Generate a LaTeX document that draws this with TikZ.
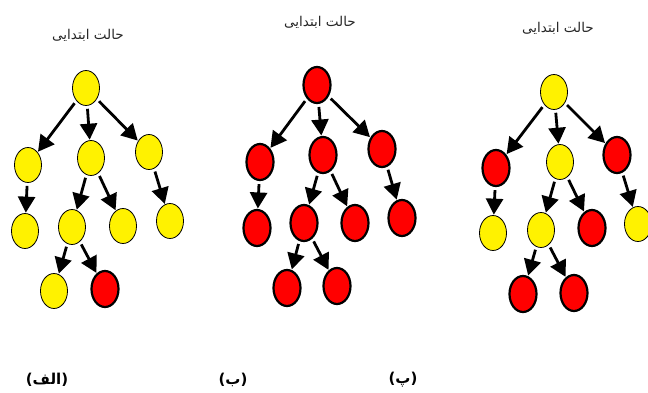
\documentclass[tikz,border=0pt]{standalone}
\usepackage{fontspec}
\usetikzlibrary{arrows.meta,shapes.geometric}
\TeXXeTstate=1
\newfontfamily\arabicfont[Script=Arabic]{DejaVu Sans}
\newfontfamily\plainsans{DejaVu Sans}
\tikzset{
  yel/.style={ellipse, draw=black, line width=0.8pt, fill=yellow, minimum width=27pt, minimum height=35pt, inner sep=0pt},
  rednode/.style={ellipse, draw=black, line width=2.2pt, fill=red, minimum width=27pt, minimum height=36pt, inner sep=0pt},
  arr/.style={line width=2.8pt, -{Triangle[length=16pt,width=17pt]}, shorten <=3pt, shorten >=0.5pt},
  ttl/.style={font=\arabicfont\fontsize{13.5}{15}\selectfont, text=black!85},
  lbl/.style={font=\bfseries\fontsize{15}{17}\selectfont}
}
\newcommand{\lparen}{{\plainsans\bfseries(}}
\newcommand{\rparen}{{\plainsans\bfseries)}}
\begin{document}
\begin{tikzpicture}[x=1pt,y=-1pt]
\useasboundingbox (0,0) rectangle (648,392);
% titles
\node[ttl] (t1) at (88,35) {\beginR حالت ابتدایی\endR};
\node[ttl] (t2) at (320,22) {\beginR حالت ابتدایی\endR};
\node[ttl] (t3) at (558,28) {\beginR حالت ابتدایی\endR};
% labels
\node[lbl] (l1) at (47,380) {\lparen{\arabicfont\bfseries\beginR الف\endR}\rparen};
\node[lbl] (l2) at (233,380) {\lparen{\arabicfont\bfseries\beginR ب\endR}\rparen};
\node[lbl] (l3) at (403,380) {\lparen{\arabicfont\bfseries\beginR پ\endR}\rparen};
% tree 1
\node[yel] (ar) at (86,88) {};
\node[yel] (aa) at (28,165) {};
\node[yel] (ab) at (91,158) {};
\node[yel] (ac) at (149,152) {};
\node[yel] (ad) at (25,231) {};
\node[yel] (ae) at (72,227) {};
\node[yel] (af) at (123,226) {};
\node[yel] (ag) at (170,221) {};
\node[yel] (ah) at (54,291) {};
\node[rednode] (ai) at (105,289) {};
% tree 2
\node[rednode] (br) at (317,85) {};
\node[rednode] (ba) at (260,162) {};
\node[rednode] (bb) at (323,155) {};
\node[rednode] (bc) at (382,149) {};
\node[rednode] (bd) at (257,228) {};
\node[rednode] (be) at (304,223) {};
\node[rednode] (bf) at (355,223) {};
\node[rednode] (bg) at (402,218) {};
\node[rednode] (bh) at (287,288) {};
\node[rednode] (bi) at (337,286) {};
% tree 3
\node[yel] (cr) at (554,92) {};
\node[rednode] (ca) at (496,168) {};
\node[yel] (cb) at (560,162) {};
\node[rednode] (cc) at (617,155) {};
\node[yel] (cd) at (493,233) {};
\node[yel] (ce) at (541,230) {};
\node[rednode] (cf) at (592,228) {};
\node[yel] (cg) at (638,224) {};
\node[rednode] (ch) at (523,294) {};
\node[rednode] (ci) at (574,293) {};
% edges
\foreach \t in {a,b,c}{
  \draw[arr] (\t r) -- (\t a);
  \draw[arr] (\t r) -- (\t b);
  \draw[arr] (\t r) -- (\t c);
  \draw[arr] (\t a) -- (\t d);
  \draw[arr] (\t b) -- (\t e);
  \draw[arr] (\t b) -- (\t f);
  \draw[arr] (\t c) -- (\t g);
  \draw[arr] (\t e) -- (\t h);
  \draw[arr] (\t e) -- (\t i);
}
\end{tikzpicture}
\end{document}
